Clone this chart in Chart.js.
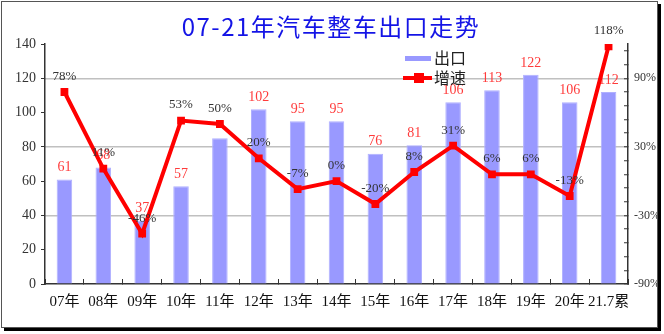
<!DOCTYPE html>
<html>
<head>
<meta charset="utf-8">
<script src="https://cdn.jsdelivr.net/npm/chart.js@4/dist/chart.umd.min.js"></script>
<style>
  body { margin: 0; background: #fff; }
  #frame {
    position: absolute; left: 1px; top: 1px;
    width: 655px; height: 325px;
    border: 1px solid #555;
    box-shadow: 3px 3px 0 #000;
    background: #fff;
  }
  canvas { display: block; }
</style>
</head>
<body>
<div id="frame"><canvas id="chart" width="655" height="325"></canvas></div>
<script>
const title = '07-21年汽车整车出口走势';
const years = ['07年', '08年', '09年', '10年', '11年', '12年', '13年', '14年', '15年', '16年', '17年', '18年', '19年', '20年', '21.7累'];
const exportsK = [61, 68, 37, 57, 85, 102, 95, 95, 76, 81, 106, 113, 122, 106, 112];
const growth = [78, 11, -46, 53, 50, 20, -7, 0, -20, 8, 31, 6, 6, -13, 118];
const hiddenBarLabels = [4]; // 11年 label is covered by the line in the original
const leftTicks = [0, 20, 40, 60, 80, 100, 120, 140];
const rightTicks = [-90, -30, 30, 90];

const serif = '"Liberation Serif", "Noto Sans CJK SC", serif';
const cjk = '"Noto Sans CJK SC", sans-serif';

// value labels + legend + title, drawn on the canvas
const decor = {
    id: 'decor',
    afterDatasetDraw(chart, args) {
        const ctx = chart.ctx;
        const meta = args.meta;
        ctx.save();
        ctx.textAlign = 'center';
        ctx.textBaseline = 'bottom';
        if (args.index === 0) {
            ctx.fillStyle = '#ff3b3b';
            ctx.font = '14px ' + serif;
            meta.data.forEach((bar, i) => {
                if (hiddenBarLabels.includes(i)) return;
                ctx.fillText(exportsK[i], bar.x, bar.y - 5);
            });
        } else {
            ctx.fillStyle = '#333';
            ctx.font = '13px ' + serif;
            meta.data.forEach((pt, i) => {
                ctx.fillText(growth[i] + '%', pt.x, pt.y - 9);
            });
        }
        ctx.restore();
    },
    afterDraw(chart) {
        const ctx = chart.ctx;
        ctx.save();
        // title
        ctx.fillStyle = '#1414e6';
        ctx.font = '24px ' + cjk;
        ctx.letterSpacing = '1.5px';
        ctx.textAlign = 'center';
        ctx.textBaseline = 'middle';
        ctx.fillText(title, 329, 25);
        ctx.letterSpacing = '0px';
        // legend
        ctx.fillStyle = '#9999ff';
        ctx.fillRect(403, 54, 26, 5);
        ctx.strokeStyle = '#ff0000';
        ctx.lineWidth = 4;
        ctx.beginPath();
        ctx.moveTo(401, 76);
        ctx.lineTo(430, 76);
        ctx.stroke();
        ctx.fillStyle = '#ff0000';
        ctx.fillRect(412, 71, 10, 10);
        ctx.fillStyle = '#222';
        ctx.font = '16px ' + cjk;
        ctx.textAlign = 'left';
        ctx.textBaseline = 'middle';
        ctx.fillText(chart.data.datasets[0].label, 432, 56);
        ctx.fillText(chart.data.datasets[1].label, 432, 76);
        ctx.restore();
    }
};

new Chart(document.getElementById('chart'), {
    type: 'bar',
    data: {
        labels: years,
        datasets: [{
            label: '出口',
            data: exportsK,
            yAxisID: 'y',
            order: 2,
            backgroundColor: '#9999ff',
            borderColor: '#b0b0ff',
            borderWidth: 1,
            barPercentage: 0.4,
            categoryPercentage: 1
        }, {
            type: 'line',
            label: '增速',
            data: growth,
            yAxisID: 'y1',
            order: 1,
            borderColor: '#ff0000',
            backgroundColor: '#ff0000',
            borderWidth: 4,
            pointStyle: 'rect',
            pointRadius: 5.5,
            pointBorderWidth: 0,
            tension: 0
        }]
    },
    options: {
        responsive: false,
        animation: false,
        layout: { padding: { top: 42, left: 0, right: 0, bottom: 0 } },
        plugins: {
            legend: { display: false },
            title: { display: false },
            tooltip: { enabled: false }
        },
        scales: {
            x: {
                afterFit: s => { s.height = 43; },
                border: { color: '#333', width: 1.5 },
                grid: { offset: true, drawOnChartArea: false, tickLength: -5, color: '#333' },
                ticks: { color: '#111', font: { family: serif, size: 15 }, padding: 14, maxRotation: 0, autoSkip: false }
            },
            y: {
                position: 'left',
                min: 0,
                max: 140,
                afterFit: s => { s.width = 43; },
                afterBuildTicks: s => { s.ticks = leftTicks.map(v => ({ value: v })); },
                border: { color: '#333', width: 1.5 },
                grid: { drawOnChartArea: false, tickLength: 4, color: '#333' },
                ticks: { color: '#333', font: { family: serif, size: 14 }, padding: 5, autoSkip: false }
            },
            y1: {
                position: 'right',
                min: -90,
                max: 120,
                afterFit: s => { s.width = 29; },
                afterBuildTicks: s => {
                    // minor tick marks every 12% between the labelled ticks
                    const t = [];
                    for (let v = rightTicks[0]; v <= 120; v += 12) t.push({ value: v });
                    s.ticks = t;
                },
                border: { color: '#333', width: 1.5 },
                grid: {
                    drawOnChartArea: true,
                    tickLength: -4,
                    lineWidth: 1.5,
                    color: c => rightTicks.includes(c.tick && c.tick.value) && c.tick.value !== -90 ? '#c0c0c0' : 'rgba(0,0,0,0)',
                    tickColor: '#333',
                    tickWidth: 1
                },
                ticks: {
                    color: '#333',
                    font: { family: serif, size: 12 },
                    padding: 10,
                    autoSkip: false,
                    callback: v => rightTicks.includes(v) ? v + '%' : ''
                }
            }
        }
    },
    plugins: [decor]
});
</script>
</body>
</html>
